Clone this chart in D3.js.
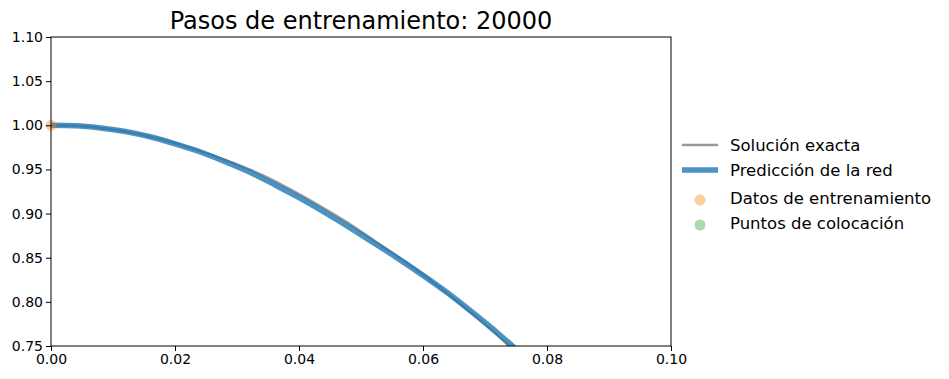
<!DOCTYPE html>
<html>
<head>
<meta charset="utf-8">
<script src="https://cdn.jsdelivr.net/npm/d3@7"></script>
<style>
  body { margin: 0; background: #fff; }
  svg text { font-family: "DejaVu Sans", sans-serif; fill: #000; }
</style>
</head>
<body>
<div id="chart"></div>
<script>
// values
var tVals = [0, 0.004, 0.008, 0.012, 0.016, 0.020, 0.024, 0.028, 0.032, 0.036,
             0.040, 0.044, 0.048, 0.052, 0.056, 0.060, 0.064, 0.068, 0.072, 0.076];
var exactVals = [1.000, 0.9995, 0.997, 0.993, 0.987, 0.980, 0.971, 0.961, 0.950, 0.937,
                 0.922, 0.906, 0.889, 0.870, 0.851, 0.831, 0.809, 0.786, 0.762, 0.736];
var predVals = [1.000, 0.9995, 0.997, 0.993, 0.987, 0.979, 0.970, 0.959, 0.947, 0.933,
                0.918, 0.902, 0.885, 0.867, 0.849, 0.830, 0.810, 0.788, 0.765, 0.740];
var trainT = [0];
var trainY = [1.0];
var collocT = [];
var collocY = [];
var xTicks = [0, 0.02, 0.04, 0.06, 0.08, 0.10];
var yTicks = [0.75, 0.80, 0.85, 0.90, 0.95, 1.00, 1.05, 1.10];
var legendLabels = ["Solución exacta", "Predicción de la red", "Datos de entrenamiento", "Puntos de colocación"];
var title = "Pasos de entrenamiento: 20000";

var w = 949, h = 379;
var mLeft = 51, mRight = 671, mTop = 37, mBottom = 346;

var svg = d3.select("#chart").append("svg")
  .attr("width", w)
  .attr("height", h);

var x = d3.scaleLinear().domain([0, 0.1]).range([mLeft, mRight]);
var y = d3.scaleLinear().domain([0.75, 1.1]).range([mBottom, mTop]);

svg.append("clipPath").attr("id", "clip")
  .append("rect")
  .attr("x", mLeft).attr("y", mTop)
  .attr("width", mRight - mLeft).attr("height", mBottom - mTop);

var line = d3.line()
  .x(function(d) { return x(d[0]); })
  .y(function(d) { return y(d[1]); })
  .curve(d3.curveMonotoneX);

var plot = svg.append("g").attr("clip-path", "url(#clip)");

// exact solution
plot.append("path")
  .datum(tVals.map(function(t, i) { return [t, exactVals[i]]; }))
  .attr("d", line)
  .attr("fill", "none")
  .attr("stroke", "#999999")
  .attr("stroke-width", 2.5);

// network prediction
plot.append("path")
  .datum(tVals.map(function(t, i) { return [t, predVals[i]]; }))
  .attr("d", line)
  .attr("fill", "none")
  .attr("stroke", "#1f77b4")
  .attr("stroke-opacity", 0.8)
  .attr("stroke-width", 5.5);

// training data
svg.selectAll("circle.train")
  .data(trainT)
  .enter().append("circle")
  .attr("class", "train")
  .attr("cx", function(d) { return x(d); })
  .attr("cy", function(d, i) { return y(trainY[i]); })
  .attr("r", 5.5)
  .attr("fill", "#ff7f0e")
  .attr("fill-opacity", 0.4);

// collocation points
plot.selectAll("circle.colloc")
  .data(collocT)
  .enter().append("circle")
  .attr("class", "colloc")
  .attr("cx", function(d) { return x(d); })
  .attr("cy", function(d, i) { return y(collocY[i]); })
  .attr("r", 5.5)
  .attr("fill", "#2ca02c")
  .attr("fill-opacity", 0.4);

// axes
var xAxis = d3.axisBottom(x).tickValues(xTicks).tickFormat(d3.format(".2f")).tickSize(5).tickPadding(3);
var yAxis = d3.axisLeft(y).tickValues(yTicks).tickFormat(d3.format(".2f")).tickSize(5).tickPadding(3);

var gx = svg.append("g").attr("transform", "translate(0," + mBottom + ")").call(xAxis);
var gy = svg.append("g").attr("transform", "translate(" + mLeft + ",0)").call(yAxis);
[gx, gy].forEach(function(g) {
  g.select(".domain").remove();
  g.selectAll("line").attr("stroke", "#000").attr("stroke-width", 1);
  g.selectAll("text").attr("font-size", "14px").attr("font-family", "DejaVu Sans");
});

// frame
svg.append("rect")
  .attr("x", mLeft).attr("y", mTop)
  .attr("width", mRight - mLeft).attr("height", mBottom - mTop)
  .attr("fill", "none")
  .attr("stroke", "#000")
  .attr("stroke-width", 1);

// title
svg.append("text")
  .attr("x", (mLeft + mRight) / 2)
  .attr("y", 29)
  .attr("text-anchor", "middle")
  .attr("font-size", "24px")
  .text(title);

// legend
var legY = [145, 170, 198, 223];
var leg = svg.append("g");
leg.append("line")
  .attr("x1", 682).attr("x2", 718).attr("y1", legY[0]).attr("y2", legY[0])
  .attr("stroke", "#999999").attr("stroke-width", 2.5);
leg.append("line")
  .attr("x1", 682).attr("x2", 718).attr("y1", legY[1]).attr("y2", legY[1])
  .attr("stroke", "#1f77b4").attr("stroke-opacity", 0.8).attr("stroke-width", 5.5);
leg.append("circle")
  .attr("cx", 700).attr("cy", legY[2] + 2).attr("r", 5.5)
  .attr("fill", "#ff7f0e").attr("fill-opacity", 0.4);
leg.append("circle")
  .attr("cx", 700).attr("cy", legY[3] + 2).attr("r", 5.5)
  .attr("fill", "#2ca02c").attr("fill-opacity", 0.4);
leg.selectAll("text")
  .data(legendLabels)
  .enter().append("text")
  .attr("x", 730)
  .attr("y", function(d, i) { return legY[i]; })
  .attr("dy", "0.35em")
  .attr("font-size", "16.5px")
  .text(function(d) { return d; });
</script>
</body>
</html>
